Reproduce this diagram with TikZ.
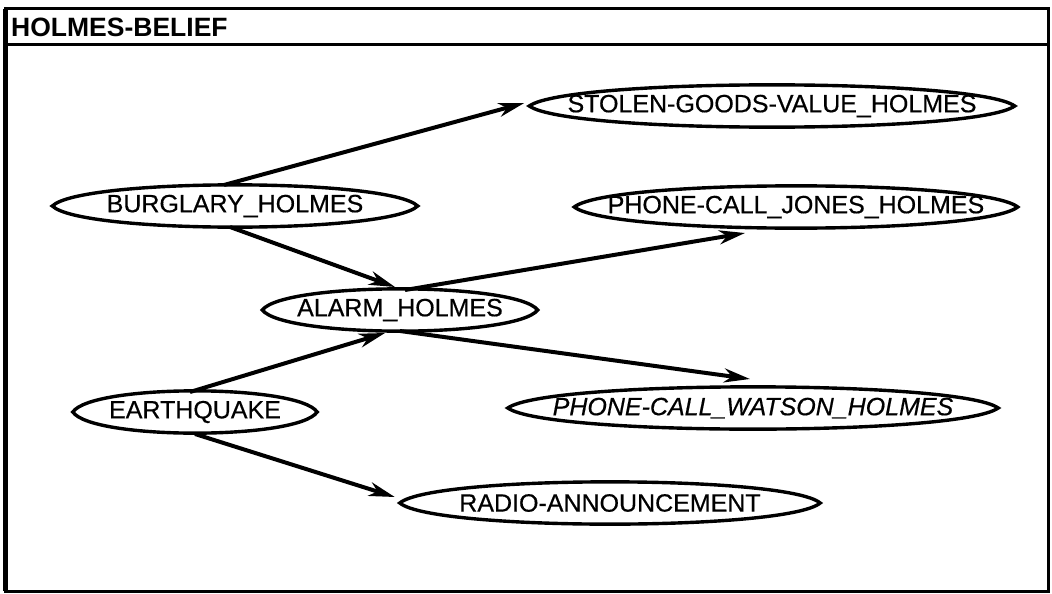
\documentclass[tikz,border=0pt]{standalone}
\usepackage{fontspec}
\setmainfont{Liberation Sans}
\newfontfamily\lblfont{Liberation Sans}[FakeBold=0.5]
\usetikzlibrary{arrows.meta,calc}
\tikzset{
  lbl/.style={rectangle, inner sep=0pt, minimum height=42pt, font=\fontsize{25}{28}\selectfont\lblfont},
  lensline/.style={line width=3.4pt},
  edge/.style={line width=4pt, -{Stealth[length=26pt,width=14pt,inset=8pt]}},
  frame/.style={line width=3pt}
}
\newcommand\drawlens[1]{\draw[lensline] (#1.west) .. controls ($(#1.north west)!0.08!(#1.north east)+(0,-7)$) and ($(#1.north west)!0.92!(#1.north east)+(0,-7)$) .. (#1.east) .. controls ($(#1.south west)!0.92!(#1.south east)+(0,7)$) and ($(#1.south west)!0.08!(#1.south east)+(0,7)$) .. (#1.west) -- cycle;}
\begin{document}
\begin{tikzpicture}[x=1pt,y=-1pt]
\useasboundingbox (0,0) rectangle (1052,594);
\draw[frame] (5,9) rectangle (1048,591);
\draw[line width=5pt] (5,9) -- (5,591);
\draw[frame] (5,45) -- (1048,45);
\node[anchor=west, inner sep=0pt, font=\fontsize{26.5}{30}\selectfont\bfseries] (title) at (11,27) {HOLMES-BELIEF};

\node[lbl, minimum width=485pt] (stolen) at (772,106) {STOLEN-GOODS-VALUE\_HOLMES};
\node[lbl, minimum width=365pt] (burg) at (235,206) {BURGLARY\_HOLMES};
\node[lbl, minimum width=443pt] (jones) at (796,207) {PHONE-CALL\_JONES\_HOLMES};
\node[lbl, minimum width=275pt] (alarm) at (400,310) {ALARM\_HOLMES};
\node[lbl, minimum width=244pt] (earth) at (195,412) {EARTHQUAKE};
\node[lbl, minimum width=490pt, font=\fontsize{25}{28}\selectfont\lblfont\itshape] (watson) at (753,408) {PHONE-CALL\_WATSON\_HOLMES};
\node[lbl, minimum width=420pt] (radio) at (610,503) {RADIO-ANNOUNCEMENT};

\foreach \n in {stolen,burg,jones,alarm,earth,watson,radio} {\drawlens{\n}}

\draw[edge] ($(burg.center)+(-11,-21)$) -- ($(stolen.west)+(-5,-3)$);
\draw[edge] ($(burg.center)+(-5,21)$) -- ($(alarm.center)+(-5,-23)$);
\draw[edge] ($(alarm.center)+(5,-20)$) -- ($(jones.center)+(-51,26)$);
\draw[edge] ($(alarm.center)+(0,21)$) -- ($(watson.center)+(-3,-29)$);
\draw[edge] ($(earth.center)+(-5,-20)$) -- ($(alarm.center)+(-15,23)$);
\draw[edge] ($(earth.center)+(0,22)$) -- ($(radio.west)+(-5,-6)$);
\end{tikzpicture}
\end{document}
